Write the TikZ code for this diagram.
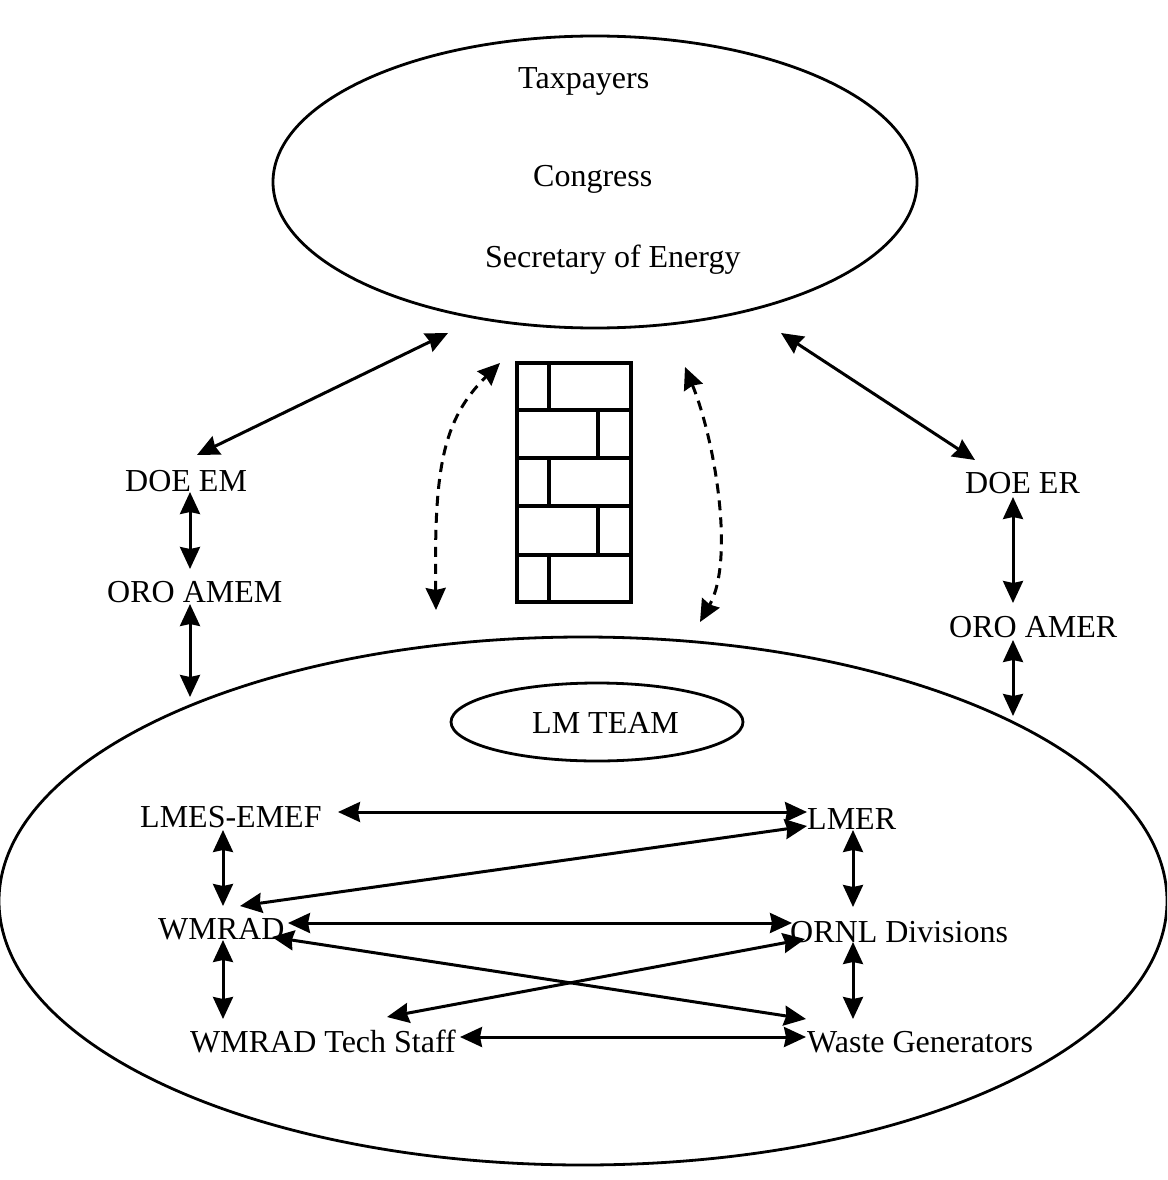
\documentclass[tikz,border=0pt]{standalone}
\usepackage{fontspec}
\setmainfont{Liberation Serif}
\usetikzlibrary{arrows.meta,shapes.geometric}
\begin{document}
\begin{tikzpicture}[x=1pt,y=-1pt,
  lbl/.style={anchor=base west,inner sep=0pt,font=\fontsize{32}{38}\selectfont},
  ring/.style={draw,ellipse,line width=2.8pt,inner sep=0pt},
  link/.style={line width=3pt,{Stealth[length=22pt,width=20pt,inset=2pt]}-{Stealth[length=22pt,width=20pt,inset=2pt]}},
  dlink/.style={link,dash pattern=on 10pt off 7pt},
  brick/.style={line width=3.2pt}]
\useasboundingbox (0,0) rectangle (1167,1180);
\clip (0,0) rectangle (1167,1180);
% ellipses
\node[ring,minimum width=644pt,minimum height=292pt] (top) at (595,182) {};
\node[ring,minimum width=1168pt,minimum height=528pt] (bot) at (583,901) {};
\node[ring,minimum width=292pt,minimum height=78pt] (lmt) at (597,722) {};
% texts
\node[lbl] (tax) at (518,89) {Taxpayers};
\node[lbl] (con) at (533,186) {Congress};
\node[lbl] (sec) at (485,267) {Secretary of Energy};
\node[lbl] (doeem) at (125,491) {DOE EM};
\node[lbl] (oroamem) at (107,602) {ORO AMEM};
\node[lbl] (doeer) at (965,493) {DOE ER};
\node[lbl] (oroamer) at (949,637) {ORO AMER};
\node[lbl] (lmteam) at (532,733) {LM TEAM};
\node[lbl] (lmes) at (140,827) {LMES-EMEF};
\node[lbl] (lmer) at (807,829) {LMER};
\node[lbl] (wmrad) at (158,939) {WMRAD};
\node[lbl] (ornl) at (790,942) {ORNL Divisions};
\node[lbl] (tech) at (190,1052) {WMRAD Tech Staff};
\node[lbl] (waste) at (807,1052) {Waste Generators};
% wall
\draw[brick] (517,363) rectangle (631,602);
\foreach \y in {410,458,506,555} \draw[brick] (517,\y) -- (633,\y);
\draw[brick] (549,363) -- (549,410);
\draw[brick] (598,410) -- (598,458);
\draw[brick] (549,458) -- (549,506);
\draw[brick] (598,506) -- (598,555);
\draw[brick] (549,555) -- (549,602);
% endpoint coordinates
\coordinate (a1) at (448,333); \coordinate (a2) at (197,455);
\coordinate (b1) at (781,333); \coordinate (b2) at (975,460);
\coordinate (c1) at (190,492); \coordinate (c2) at (190,569);
\coordinate (d1) at (190,604); \coordinate (d2) at (190,697);
\coordinate (e1) at (1013,497); \coordinate (e2) at (1013,603);
\coordinate (f1) at (1013,640); \coordinate (f2) at (1013,716);
\coordinate (dl1) at (436,610); \coordinate (dl2) at (500,363);
\coordinate (dr1) at (685,367); \coordinate (dr2) at (700,622);
\coordinate (g1) at (338,812); \coordinate (g2) at (807,812);
\coordinate (h1) at (223,830); \coordinate (h2) at (223,906);
\coordinate (i1) at (853,830); \coordinate (i2) at (853,907);
\coordinate (j1) at (240,906); \coordinate (j2) at (807,826);
\coordinate (k1) at (288,923); \coordinate (k2) at (792,923);
\coordinate (l1) at (272,937); \coordinate (l2) at (806,1019);
\coordinate (m1) at (387,1017); \coordinate (m2) at (805,939);
\coordinate (n1) at (223,940); \coordinate (n2) at (223,1019);
\coordinate (o1) at (853,942); \coordinate (o2) at (853,1019);
\coordinate (p1) at (460,1037); \coordinate (p2) at (806,1037);
% connectors
\draw[link] (a1) -- (a2);
\draw[link] (b1) -- (b2);
\draw[link] (c1) -- (c2);
\draw[link] (d1) -- (d2);
\draw[link] (e1) -- (e2);
\draw[link] (f1) -- (f2);
\draw[dlink] (dl1) .. controls (434,470) and (442,420) .. (dl2);
\draw[dlink] (dr1) .. controls (715,440) and (735,560) .. (dr2);
\draw[link] (g1) -- (g2);
\draw[link] (h1) -- (h2);
\draw[link] (i1) -- (i2);
\draw[link] (j1) -- (j2);
\draw[link] (k1) -- (k2);
\draw[link] (l1) -- (l2);
\draw[link] (m1) -- (m2);
\draw[link] (n1) -- (n2);
\draw[link] (o1) -- (o2);
\draw[link] (p1) -- (p2);
\end{tikzpicture}
\end{document}
